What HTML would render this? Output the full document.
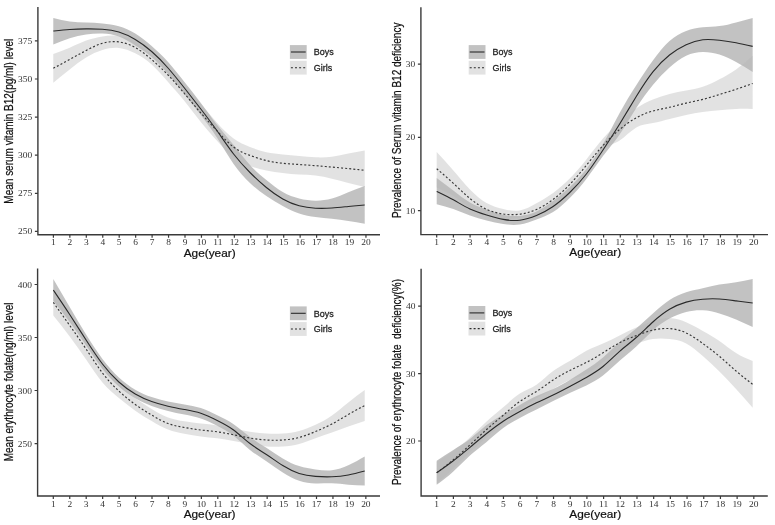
<!DOCTYPE html>
<html><head><meta charset="utf-8"><style>
html,body{margin:0;padding:0;background:#fff;}
svg{display:block;filter:blur(0.3px);}
.tk{font-family:"Liberation Serif",serif;font-size:9px;fill:#333;}
.ti{font-family:"Liberation Sans",sans-serif;font-size:10.6px;fill:#111;stroke:#111;stroke-width:0.2px;}
.yt{white-space:pre;font-family:"Liberation Sans",sans-serif;font-size:10px;fill:#111;stroke:#111;stroke-width:0.2px;}
.lg{font-family:"Liberation Sans",sans-serif;font-size:8.3px;fill:#222;stroke:#222;stroke-width:0.25px;}
</style></head><body>
<svg width="775" height="525" viewBox="0 0 775 525">
<path d="M53.30 18.00C58.76 19.32 64.23 20.63 69.69 21.40C75.15 22.17 80.62 22.38 86.08 22.60C91.54 22.82 97.01 23.05 102.47 23.50C107.93 23.95 113.40 24.63 118.86 26.20C124.32 27.77 129.79 30.23 135.25 33.60C140.71 36.97 146.18 41.27 151.64 46.00C157.10 50.73 162.57 55.91 168.03 62.00C173.49 68.09 178.96 75.09 184.42 82.00C189.88 88.91 195.35 95.72 200.81 103.00C206.27 110.28 211.74 118.01 217.20 125.00C222.66 131.99 228.13 138.23 233.59 145.00C239.05 151.77 244.52 159.06 249.98 165.00C255.44 170.94 260.91 175.53 266.37 180.00C271.83 184.47 277.30 188.83 282.76 192.00C288.22 195.17 293.69 197.13 299.15 198.50C304.61 199.87 310.08 200.63 315.54 200.70C321.00 200.77 326.47 200.15 331.93 198.60C337.39 197.05 342.86 194.56 348.32 192.30C353.78 190.04 359.25 188.02 364.71 186.00L364.71 223.70C359.25 222.77 353.78 221.84 348.32 221.00C342.86 220.16 337.39 219.41 331.93 218.80C326.47 218.19 321.00 217.72 315.54 217.00C310.08 216.28 304.61 215.32 299.15 213.50C293.69 211.68 288.22 208.99 282.76 206.00C277.30 203.01 271.83 199.73 266.37 196.00C260.91 192.27 255.44 188.11 249.98 183.00C244.52 177.89 239.05 171.85 233.59 164.00C228.13 156.15 222.66 146.50 217.20 138.00C211.74 129.50 206.27 122.16 200.81 115.00C195.35 107.84 189.88 100.87 184.42 94.00C178.96 87.13 173.49 80.36 168.03 74.00C162.57 67.64 157.10 61.70 151.64 57.00C146.18 52.30 140.71 48.83 135.25 45.40C129.79 41.97 124.32 38.57 118.86 36.50C113.40 34.43 107.93 33.68 102.47 33.50C97.01 33.32 91.54 33.69 86.08 34.50C80.62 35.31 75.15 36.54 69.69 38.30C64.23 40.06 58.76 42.33 53.30 44.60Z" fill="#666666" fill-opacity="0.4"/>
<path d="M53.30 54.00C58.76 52.02 64.23 50.05 69.69 47.70C75.15 45.35 80.62 42.63 86.08 40.60C91.54 38.57 97.01 37.21 102.47 36.40C107.93 35.59 113.40 35.31 118.86 36.00C124.32 36.69 129.79 38.36 135.25 41.70C140.71 45.04 146.18 50.07 151.64 54.50C157.10 58.93 162.57 62.77 168.03 68.00C173.49 73.23 178.96 79.86 184.42 86.00C189.88 92.14 195.35 97.81 200.81 104.00C206.27 110.19 211.74 116.91 217.20 123.00C222.66 129.09 228.13 134.57 233.59 138.50C239.05 142.43 244.52 144.83 249.98 147.00C255.44 149.17 260.91 151.12 266.37 152.30C271.83 153.48 277.30 153.91 282.76 154.40C288.22 154.89 293.69 155.45 299.15 156.00C304.61 156.55 310.08 157.08 315.54 157.30C321.00 157.52 326.47 157.42 331.93 156.70C337.39 155.98 342.86 154.65 348.32 153.50C353.78 152.35 359.25 151.37 364.71 150.40L364.71 187.00C359.25 185.65 353.78 184.30 348.32 182.90C342.86 181.50 337.39 180.04 331.93 178.70C326.47 177.36 321.00 176.14 315.54 175.50C310.08 174.86 304.61 174.80 299.15 174.50C293.69 174.20 288.22 173.65 282.76 173.00C277.30 172.35 271.83 171.61 266.37 170.50C260.91 169.39 255.44 167.91 249.98 166.00C244.52 164.09 239.05 161.74 233.59 157.50C228.13 153.26 222.66 147.12 217.20 141.00C211.74 134.88 206.27 128.78 200.81 122.00C195.35 115.22 189.88 107.75 184.42 101.00C178.96 94.25 173.49 88.20 168.03 82.00C162.57 75.80 157.10 69.44 151.64 64.50C146.18 59.56 140.71 56.05 135.25 53.30C129.79 50.55 124.32 48.56 118.86 48.00C113.40 47.44 107.93 48.33 102.47 50.00C97.01 51.67 91.54 54.13 86.08 57.50C80.62 60.87 75.15 65.13 69.69 69.50C64.23 73.87 58.76 78.33 53.30 82.80Z" fill="#b6b6b6" fill-opacity="0.4"/>
<path d="M53.30 31.00C58.76 30.44 64.23 29.87 69.69 29.50C75.15 29.13 80.62 28.95 86.08 28.90C91.54 28.85 97.01 28.92 102.47 29.30C107.93 29.68 113.40 30.36 118.86 32.00C124.32 33.64 129.79 36.22 135.25 39.50C140.71 42.78 146.18 46.75 151.64 51.50C157.10 56.25 162.57 61.80 168.03 68.00C173.49 74.20 178.96 81.07 184.42 88.00C189.88 94.93 195.35 101.91 200.81 109.00C206.27 116.09 211.74 123.29 217.20 131.00C222.66 138.71 228.13 146.92 233.59 154.00C239.05 161.08 244.52 167.01 249.98 172.50C255.44 177.99 260.91 183.02 266.37 187.50C271.83 191.98 277.30 195.91 282.76 199.00C288.22 202.09 293.69 204.34 299.15 205.80C304.61 207.26 310.08 207.93 315.54 208.20C321.00 208.47 326.47 208.36 331.93 208.00C337.39 207.64 342.86 207.04 348.32 206.50C353.78 205.96 359.25 205.48 364.71 205.00" fill="none" stroke="#2a2a2a" stroke-width="1.1"/>
<path d="M53.30 68.30C58.76 65.40 64.23 62.50 69.69 59.50C75.15 56.50 80.62 53.40 86.08 50.50C91.54 47.60 97.01 44.90 102.47 43.30C107.93 41.70 113.40 41.22 118.86 41.90C124.32 42.58 129.79 44.44 135.25 47.50C140.71 50.56 146.18 54.81 151.64 59.50C157.10 64.19 162.57 69.30 168.03 75.00C173.49 80.70 178.96 86.99 184.42 93.50C189.88 100.01 195.35 106.73 200.81 113.00C206.27 119.27 211.74 125.10 217.20 131.00C222.66 136.90 228.13 142.89 233.59 147.00C239.05 151.11 244.52 153.36 249.98 155.40C255.44 157.44 260.91 159.27 266.37 160.60C271.83 161.93 277.30 162.74 282.76 163.30C288.22 163.86 293.69 164.15 299.15 164.50C304.61 164.85 310.08 165.26 315.54 165.70C321.00 166.14 326.47 166.62 331.93 167.10C337.39 167.58 342.86 168.07 348.32 168.60C353.78 169.13 359.25 169.72 364.71 170.30" fill="none" stroke="#383838" stroke-width="1.15" stroke-dasharray="2 2.1"/>
<path d="M37.90 7.00 V234.80 H380.00" fill="none" stroke="#3a3a3a" stroke-width="1.4"/>
<path d="M53.40 234.80 v3 M69.85 234.80 v3 M86.30 234.80 v3 M102.75 234.80 v3 M119.20 234.80 v3 M135.65 234.80 v3 M152.10 234.80 v3 M168.55 234.80 v3 M185.00 234.80 v3 M201.45 234.80 v3 M217.90 234.80 v3 M234.35 234.80 v3 M250.80 234.80 v3 M267.25 234.80 v3 M283.70 234.80 v3 M300.15 234.80 v3 M316.60 234.80 v3 M333.05 234.80 v3 M349.50 234.80 v3 M365.95 234.80 v3 M37.90 231.40 h-3 M37.90 193.30 h-3 M37.90 155.20 h-3 M37.90 117.10 h-3 M37.90 79.00 h-3 M37.90 40.90 h-3" stroke="#3a3a3a" stroke-width="1.2"/>
<text class="tk" text-anchor="middle" transform="translate(53.40 245.30) scale(1.05 1)">1</text>
<text class="tk" text-anchor="middle" transform="translate(69.85 245.30) scale(1.05 1)">2</text>
<text class="tk" text-anchor="middle" transform="translate(86.30 245.30) scale(1.05 1)">3</text>
<text class="tk" text-anchor="middle" transform="translate(102.75 245.30) scale(1.05 1)">4</text>
<text class="tk" text-anchor="middle" transform="translate(119.20 245.30) scale(1.05 1)">5</text>
<text class="tk" text-anchor="middle" transform="translate(135.65 245.30) scale(1.05 1)">6</text>
<text class="tk" text-anchor="middle" transform="translate(152.10 245.30) scale(1.05 1)">7</text>
<text class="tk" text-anchor="middle" transform="translate(168.55 245.30) scale(1.05 1)">8</text>
<text class="tk" text-anchor="middle" transform="translate(185.00 245.30) scale(1.05 1)">9</text>
<text class="tk" text-anchor="middle" transform="translate(201.45 245.30) scale(1.05 1)">10</text>
<text class="tk" text-anchor="middle" transform="translate(217.90 245.30) scale(1.05 1)">11</text>
<text class="tk" text-anchor="middle" transform="translate(234.35 245.30) scale(1.05 1)">12</text>
<text class="tk" text-anchor="middle" transform="translate(250.80 245.30) scale(1.05 1)">13</text>
<text class="tk" text-anchor="middle" transform="translate(267.25 245.30) scale(1.05 1)">14</text>
<text class="tk" text-anchor="middle" transform="translate(283.70 245.30) scale(1.05 1)">15</text>
<text class="tk" text-anchor="middle" transform="translate(300.15 245.30) scale(1.05 1)">16</text>
<text class="tk" text-anchor="middle" transform="translate(316.60 245.30) scale(1.05 1)">17</text>
<text class="tk" text-anchor="middle" transform="translate(333.05 245.30) scale(1.05 1)">18</text>
<text class="tk" text-anchor="middle" transform="translate(349.50 245.30) scale(1.05 1)">19</text>
<text class="tk" text-anchor="middle" transform="translate(365.95 245.30) scale(1.05 1)">20</text>
<text class="tk" text-anchor="end" transform="translate(32.20 234.40) scale(1.05 1)">250</text>
<text class="tk" text-anchor="end" transform="translate(32.20 196.30) scale(1.05 1)">275</text>
<text class="tk" text-anchor="end" transform="translate(32.20 158.20) scale(1.05 1)">300</text>
<text class="tk" text-anchor="end" transform="translate(32.20 120.10) scale(1.05 1)">325</text>
<text class="tk" text-anchor="end" transform="translate(32.20 82.00) scale(1.05 1)">350</text>
<text class="tk" text-anchor="end" transform="translate(32.20 43.90) scale(1.05 1)">375</text>
<text class="ti" text-anchor="middle" transform="translate(209.67 256.60) scale(1.117 1)">Age(year)</text>
<text class="yt" text-anchor="middle" transform="translate(12.90 121.20) rotate(-90) scale(1 1.2)" >Mean serum vitamin B12(pg/ml) level</text>
<rect x="289.90" y="45.10" width="16.8" height="13.8" fill="#666666" fill-opacity="0.4"/>
<rect x="289.90" y="60.80" width="16.8" height="13.8" fill="#b6b6b6" fill-opacity="0.4"/>
<path d="M290.90 52.00 h14.80" stroke="#2a2a2a" stroke-width="1.1"/>
<path d="M290.90 67.70 h14.80" stroke="#2a2a2a" stroke-width="1.15" stroke-dasharray="2 2.1"/>
<text class="lg" transform="translate(313.80 55.20) scale(1.08 1)">Boys</text>
<text class="lg" transform="translate(313.80 70.90) scale(1.08 1)">Girls</text>
<path d="M436.70 178.00C442.24 182.15 447.79 186.30 453.33 190.60C458.87 194.90 464.42 199.34 469.96 202.50C475.50 205.66 481.05 207.52 486.59 209.50C492.13 211.48 497.68 213.57 503.22 214.80C508.76 216.03 514.31 216.39 519.85 215.90C525.39 215.41 530.94 214.05 536.48 211.50C542.02 208.95 547.57 205.19 553.11 201.00C558.65 196.81 564.20 192.20 569.74 187.00C575.28 181.80 580.83 176.02 586.37 169.00C591.91 161.98 597.46 153.72 603.00 144.00C608.54 134.28 614.09 123.10 619.63 113.00C625.17 102.90 630.72 93.89 636.26 85.20C641.80 76.51 647.35 68.14 652.89 60.50C658.43 52.86 663.98 45.95 669.52 41.00C675.06 36.05 680.61 33.05 686.15 31.00C691.69 28.95 697.24 27.83 702.78 27.30C708.32 26.77 713.87 26.82 719.41 26.10C724.95 25.38 730.50 23.89 736.04 22.40C741.58 20.91 747.13 19.40 752.67 17.90L752.67 71.90C747.13 68.47 741.58 65.03 736.04 62.00C730.50 58.97 724.95 56.34 719.41 54.60C713.87 52.86 708.32 52.01 702.78 52.10C697.24 52.19 691.69 53.22 686.15 55.80C680.61 58.38 675.06 62.52 669.52 67.50C663.98 72.48 658.43 78.29 652.89 85.00C647.35 91.71 641.80 99.30 636.26 108.00C630.72 116.70 625.17 126.50 619.63 134.50C614.09 142.50 608.54 148.70 603.00 156.00C597.46 163.30 591.91 171.72 586.37 179.00C580.83 186.28 575.28 192.44 569.74 198.00C564.20 203.56 558.65 208.53 553.11 212.00C547.57 215.47 542.02 217.45 536.48 219.50C530.94 221.55 525.39 223.67 519.85 224.50C514.31 225.33 508.76 224.86 503.22 224.00C497.68 223.14 492.13 221.90 486.59 220.50C481.05 219.10 475.50 217.54 469.96 215.50C464.42 213.46 458.87 210.95 453.33 209.00C447.79 207.05 442.24 205.68 436.70 204.30Z" fill="#666666" fill-opacity="0.4"/>
<path d="M436.70 152.00C442.24 158.03 447.79 164.07 453.33 170.50C458.87 176.93 464.42 183.76 469.96 189.50C475.50 195.24 481.05 199.90 486.59 203.00C492.13 206.10 497.68 207.66 503.22 209.00C508.76 210.34 514.31 211.48 519.85 210.50C525.39 209.52 530.94 206.43 536.48 203.30C542.02 200.17 547.57 196.98 553.11 193.00C558.65 189.02 564.20 184.23 569.74 178.60C575.28 172.97 580.83 166.50 586.37 159.50C591.91 152.50 597.46 144.97 603.00 138.60C608.54 132.23 614.09 127.03 619.63 122.00C625.17 116.97 630.72 112.10 636.26 108.30C641.80 104.50 647.35 101.77 652.89 99.50C658.43 97.23 663.98 95.44 669.52 94.00C675.06 92.56 680.61 91.48 686.15 90.50C691.69 89.52 697.24 88.63 702.78 86.80C708.32 84.97 713.87 82.21 719.41 79.30C724.95 76.39 730.50 73.34 736.04 69.40C741.58 65.46 747.13 60.63 752.67 55.80L752.67 109.00C747.13 108.89 741.58 108.77 736.04 109.00C730.50 109.23 724.95 109.79 719.41 110.30C713.87 110.81 708.32 111.25 702.78 112.00C697.24 112.75 691.69 113.80 686.15 115.00C680.61 116.20 675.06 117.54 669.52 119.00C663.98 120.46 658.43 122.05 652.89 123.00C647.35 123.95 641.80 124.26 636.26 127.50C630.72 130.74 625.17 136.91 619.63 140.50C614.09 144.09 608.54 145.10 603.00 150.00C597.46 154.90 591.91 163.69 586.37 171.50C580.83 179.31 575.28 186.15 569.74 191.80C564.20 197.45 558.65 201.91 553.11 206.00C547.57 210.09 542.02 213.83 536.48 215.70C530.94 217.57 525.39 217.59 519.85 218.00C514.31 218.41 508.76 219.22 503.22 219.00C497.68 218.78 492.13 217.53 486.59 215.60C481.05 213.67 475.50 211.04 469.96 207.50C464.42 203.96 458.87 199.49 453.33 196.00C447.79 192.51 442.24 190.01 436.70 187.50Z" fill="#b6b6b6" fill-opacity="0.4"/>
<path d="M436.70 191.40C442.24 194.06 447.79 196.72 453.33 199.80C458.87 202.88 464.42 206.39 469.96 209.00C475.50 211.61 481.05 213.31 486.59 215.00C492.13 216.69 497.68 218.36 503.22 219.40C508.76 220.44 514.31 220.86 519.85 220.20C525.39 219.54 530.94 217.80 536.48 215.50C542.02 213.20 547.57 210.33 553.11 206.50C558.65 202.67 564.20 197.88 569.74 192.50C575.28 187.12 580.83 181.17 586.37 174.00C591.91 166.83 597.46 158.46 603.00 150.00C608.54 141.54 614.09 133.01 619.63 124.00C625.17 114.99 630.72 105.52 636.26 96.50C641.80 87.48 647.35 78.92 652.89 71.90C658.43 64.88 663.98 59.40 669.52 55.00C675.06 50.60 680.61 47.26 686.15 44.70C691.69 42.14 697.24 40.35 702.78 39.70C708.32 39.05 713.87 39.55 719.41 40.20C724.95 40.85 730.50 41.64 736.04 42.70C741.58 43.76 747.13 45.08 752.67 46.40" fill="none" stroke="#2a2a2a" stroke-width="1.1"/>
<path d="M436.70 168.70C442.24 173.44 447.79 178.18 453.33 183.30C458.87 188.42 464.42 193.91 469.96 198.50C475.50 203.09 481.05 206.76 486.59 209.30C492.13 211.84 497.68 213.23 503.22 214.00C508.76 214.77 514.31 214.90 519.85 214.20C525.39 213.50 530.94 211.95 536.48 209.50C542.02 207.05 547.57 203.68 553.11 199.50C558.65 195.32 564.20 190.31 569.74 184.50C575.28 178.69 580.83 172.07 586.37 165.30C591.91 158.53 597.46 151.60 603.00 145.50C608.54 139.40 614.09 134.13 619.63 129.50C625.17 124.87 630.72 120.88 636.26 117.80C641.80 114.72 647.35 112.54 652.89 111.00C658.43 109.46 663.98 108.56 669.52 107.30C675.06 106.04 680.61 104.41 686.15 103.10C691.69 101.79 697.24 100.79 702.78 99.40C708.32 98.01 713.87 96.22 719.41 94.50C724.95 92.78 730.50 91.12 736.04 89.30C741.58 87.48 747.13 85.49 752.67 83.50" fill="none" stroke="#383838" stroke-width="1.15" stroke-dasharray="2 2.1"/>
<path d="M420.90 7.30 V234.60 H768.00" fill="none" stroke="#3a3a3a" stroke-width="1.4"/>
<path d="M436.70 234.60 v3 M453.39 234.60 v3 M470.08 234.60 v3 M486.77 234.60 v3 M503.46 234.60 v3 M520.15 234.60 v3 M536.84 234.60 v3 M553.53 234.60 v3 M570.22 234.60 v3 M586.91 234.60 v3 M603.60 234.60 v3 M620.29 234.60 v3 M636.98 234.60 v3 M653.67 234.60 v3 M670.36 234.60 v3 M687.05 234.60 v3 M703.74 234.60 v3 M720.43 234.60 v3 M737.12 234.60 v3 M753.81 234.60 v3 M420.90 210.70 h-3 M420.90 137.40 h-3 M420.90 64.10 h-3" stroke="#3a3a3a" stroke-width="1.2"/>
<text class="tk" text-anchor="middle" transform="translate(436.70 245.10) scale(1.05 1)">1</text>
<text class="tk" text-anchor="middle" transform="translate(453.39 245.10) scale(1.05 1)">2</text>
<text class="tk" text-anchor="middle" transform="translate(470.08 245.10) scale(1.05 1)">3</text>
<text class="tk" text-anchor="middle" transform="translate(486.77 245.10) scale(1.05 1)">4</text>
<text class="tk" text-anchor="middle" transform="translate(503.46 245.10) scale(1.05 1)">5</text>
<text class="tk" text-anchor="middle" transform="translate(520.15 245.10) scale(1.05 1)">6</text>
<text class="tk" text-anchor="middle" transform="translate(536.84 245.10) scale(1.05 1)">7</text>
<text class="tk" text-anchor="middle" transform="translate(553.53 245.10) scale(1.05 1)">8</text>
<text class="tk" text-anchor="middle" transform="translate(570.22 245.10) scale(1.05 1)">9</text>
<text class="tk" text-anchor="middle" transform="translate(586.91 245.10) scale(1.05 1)">10</text>
<text class="tk" text-anchor="middle" transform="translate(603.60 245.10) scale(1.05 1)">11</text>
<text class="tk" text-anchor="middle" transform="translate(620.29 245.10) scale(1.05 1)">12</text>
<text class="tk" text-anchor="middle" transform="translate(636.98 245.10) scale(1.05 1)">13</text>
<text class="tk" text-anchor="middle" transform="translate(653.67 245.10) scale(1.05 1)">14</text>
<text class="tk" text-anchor="middle" transform="translate(670.36 245.10) scale(1.05 1)">15</text>
<text class="tk" text-anchor="middle" transform="translate(687.05 245.10) scale(1.05 1)">16</text>
<text class="tk" text-anchor="middle" transform="translate(703.74 245.10) scale(1.05 1)">17</text>
<text class="tk" text-anchor="middle" transform="translate(720.43 245.10) scale(1.05 1)">18</text>
<text class="tk" text-anchor="middle" transform="translate(737.12 245.10) scale(1.05 1)">19</text>
<text class="tk" text-anchor="middle" transform="translate(753.81 245.10) scale(1.05 1)">20</text>
<text class="tk" text-anchor="end" transform="translate(415.20 213.70) scale(1.05 1)">10</text>
<text class="tk" text-anchor="end" transform="translate(415.20 140.40) scale(1.05 1)">20</text>
<text class="tk" text-anchor="end" transform="translate(415.20 67.10) scale(1.05 1)">30</text>
<text class="ti" text-anchor="middle" transform="translate(595.25 256.40) scale(1.117 1)">Age(year)</text>
<text class="yt" text-anchor="middle" transform="translate(400.70 120.30) rotate(-90) scale(1 1.2)" >Prevalence of Serum vitamin B12 deficiency</text>
<rect x="468.70" y="45.10" width="16.8" height="13.8" fill="#666666" fill-opacity="0.4"/>
<rect x="468.70" y="60.80" width="16.8" height="13.8" fill="#b6b6b6" fill-opacity="0.4"/>
<path d="M469.70 52.00 h14.80" stroke="#2a2a2a" stroke-width="1.1"/>
<path d="M469.70 67.70 h14.80" stroke="#2a2a2a" stroke-width="1.15" stroke-dasharray="2 2.1"/>
<text class="lg" transform="translate(492.60 55.20) scale(1.08 1)">Boys</text>
<text class="lg" transform="translate(492.60 70.90) scale(1.08 1)">Girls</text>
<path d="M53.30 279.00C58.76 288.34 64.23 297.67 69.69 307.00C75.15 316.33 80.62 325.65 86.08 334.50C91.54 343.35 97.01 351.73 102.47 359.00C107.93 366.27 113.40 372.43 118.86 377.50C124.32 382.57 129.79 386.53 135.25 389.70C140.71 392.87 146.18 395.23 151.64 397.10C157.10 398.97 162.57 400.34 168.03 401.50C173.49 402.66 178.96 403.59 184.42 404.50C189.88 405.41 195.35 406.29 200.81 408.10C206.27 409.91 211.74 412.67 217.20 415.30C222.66 417.93 228.13 420.45 233.59 424.20C239.05 427.95 244.52 432.92 249.98 437.00C255.44 441.08 260.91 444.26 266.37 447.80C271.83 451.34 277.30 455.24 282.76 458.50C288.22 461.76 293.69 464.38 299.15 466.10C304.61 467.82 310.08 468.63 315.54 469.40C321.00 470.17 326.47 470.89 331.93 470.30C337.39 469.71 342.86 467.82 348.32 465.30C353.78 462.78 359.25 459.64 364.71 456.50L364.71 485.50C359.25 485.33 353.78 485.17 348.32 484.70C342.86 484.23 337.39 483.47 331.93 483.30C326.47 483.13 321.00 483.56 315.54 483.40C310.08 483.24 304.61 482.51 299.15 480.70C293.69 478.89 288.22 476.01 282.76 472.50C277.30 468.99 271.83 464.86 266.37 461.20C260.91 457.54 255.44 454.36 249.98 450.00C244.52 445.64 239.05 440.08 233.59 435.80C228.13 431.52 222.66 428.50 217.20 425.70C211.74 422.90 206.27 420.33 200.81 418.50C195.35 416.67 189.88 415.60 184.42 414.50C178.96 413.40 173.49 412.27 168.03 410.90C162.57 409.53 157.10 407.92 151.64 405.90C146.18 403.88 140.71 401.45 135.25 398.30C129.79 395.15 124.32 391.28 118.86 386.50C113.40 381.72 107.93 376.02 102.47 369.00C97.01 361.98 91.54 353.65 86.08 345.50C80.62 337.35 75.15 329.39 69.69 322.00C64.23 314.61 58.76 307.81 53.30 301.00Z" fill="#666666" fill-opacity="0.4"/>
<path d="M53.30 289.40C58.76 297.85 64.23 306.31 69.69 314.40C75.15 322.49 80.62 330.22 86.08 338.50C91.54 346.78 97.01 355.63 102.47 363.50C107.93 371.37 113.40 378.27 118.86 384.00C124.32 389.73 129.79 394.31 135.25 398.30C140.71 402.29 146.18 405.71 151.64 409.00C157.10 412.29 162.57 415.46 168.03 417.50C173.49 419.54 178.96 420.44 184.42 421.30C189.88 422.16 195.35 422.98 200.81 423.60C206.27 424.22 211.74 424.63 217.20 425.40C222.66 426.17 228.13 427.31 233.59 428.50C239.05 429.69 244.52 430.92 249.98 431.80C255.44 432.68 260.91 433.21 266.37 433.50C271.83 433.79 277.30 433.83 282.76 433.50C288.22 433.17 293.69 432.45 299.15 431.00C304.61 429.55 310.08 427.35 315.54 424.80C321.00 422.25 326.47 419.34 331.93 415.50C337.39 411.66 342.86 406.89 348.32 402.50C353.78 398.11 359.25 394.11 364.71 390.10L364.71 420.90C359.25 422.72 353.78 424.54 348.32 426.50C342.86 428.46 337.39 430.57 331.93 432.50C326.47 434.43 321.00 436.18 315.54 438.20C310.08 440.22 304.61 442.52 299.15 444.00C293.69 445.48 288.22 446.14 282.76 446.50C277.30 446.86 271.83 446.92 266.37 446.50C260.91 446.08 255.44 445.18 249.98 444.20C244.52 443.22 239.05 442.17 233.59 441.10C228.13 440.03 222.66 438.94 217.20 438.20C211.74 437.46 206.27 437.08 200.81 436.40C195.35 435.72 189.88 434.72 184.42 433.70C178.96 432.68 173.49 431.62 168.03 429.50C162.57 427.38 157.10 424.21 151.64 421.00C146.18 417.79 140.71 414.53 135.25 410.70C129.79 406.87 124.32 402.47 118.86 398.00C113.40 393.53 107.93 388.99 102.47 382.50C97.01 376.01 91.54 367.58 86.08 359.50C80.62 351.42 75.15 343.69 69.69 336.40C64.23 329.11 58.76 322.25 53.30 315.40Z" fill="#b6b6b6" fill-opacity="0.4"/>
<path d="M53.30 290.00C58.76 298.07 64.23 306.14 69.69 314.50C75.15 322.86 80.62 331.50 86.08 340.00C91.54 348.50 97.01 356.86 102.47 364.00C107.93 371.14 113.40 377.08 118.86 382.00C124.32 386.92 129.79 390.84 135.25 394.00C140.71 397.16 146.18 399.56 151.64 401.50C157.10 403.44 162.57 404.94 168.03 406.20C173.49 407.46 178.96 408.50 184.42 409.50C189.88 410.50 195.35 411.48 200.81 413.30C206.27 415.12 211.74 417.78 217.20 420.50C222.66 423.22 228.13 425.98 233.59 430.00C239.05 434.02 244.52 439.28 249.98 443.50C255.44 447.72 260.91 450.90 266.37 454.50C271.83 458.10 277.30 462.12 282.76 465.50C288.22 468.88 293.69 471.64 299.15 473.40C304.61 475.16 310.08 475.94 315.54 476.40C321.00 476.86 326.47 477.01 331.93 476.80C337.39 476.59 342.86 476.03 348.32 475.00C353.78 473.97 359.25 472.49 364.71 471.00" fill="none" stroke="#2a2a2a" stroke-width="1.1"/>
<path d="M53.30 302.40C58.76 310.05 64.23 317.71 69.69 325.40C75.15 333.09 80.62 340.82 86.08 349.00C91.54 357.18 97.01 365.82 102.47 373.00C107.93 380.18 113.40 385.90 118.86 391.00C124.32 396.10 129.79 400.59 135.25 404.50C140.71 408.41 146.18 411.75 151.64 415.00C157.10 418.25 162.57 421.42 168.03 423.50C173.49 425.58 178.96 426.56 184.42 427.50C189.88 428.44 195.35 429.35 200.81 430.00C206.27 430.65 211.74 431.04 217.20 431.80C222.66 432.56 228.13 433.67 233.59 434.80C239.05 435.93 244.52 437.07 249.98 438.00C255.44 438.93 260.91 439.65 266.37 440.00C271.83 440.35 277.30 440.35 282.76 440.00C288.22 439.65 293.69 438.97 299.15 437.50C304.61 436.03 310.08 433.79 315.54 431.50C321.00 429.21 326.47 426.88 331.93 424.00C337.39 421.12 342.86 417.68 348.32 414.50C353.78 411.32 359.25 408.41 364.71 405.50" fill="none" stroke="#383838" stroke-width="1.15" stroke-dasharray="2 2.1"/>
<path d="M37.60 268.50 V496.00 H380.00" fill="none" stroke="#3a3a3a" stroke-width="1.4"/>
<path d="M53.30 496.00 v3 M69.75 496.00 v3 M86.20 496.00 v3 M102.65 496.00 v3 M119.10 496.00 v3 M135.55 496.00 v3 M152.00 496.00 v3 M168.45 496.00 v3 M184.90 496.00 v3 M201.35 496.00 v3 M217.80 496.00 v3 M234.25 496.00 v3 M250.70 496.00 v3 M267.15 496.00 v3 M283.60 496.00 v3 M300.05 496.00 v3 M316.50 496.00 v3 M332.95 496.00 v3 M349.40 496.00 v3 M365.85 496.00 v3 M37.60 443.60 h-3 M37.60 390.50 h-3 M37.60 337.50 h-3 M37.60 284.50 h-3" stroke="#3a3a3a" stroke-width="1.2"/>
<text class="tk" text-anchor="middle" transform="translate(53.30 506.50) scale(1.05 1)">1</text>
<text class="tk" text-anchor="middle" transform="translate(69.75 506.50) scale(1.05 1)">2</text>
<text class="tk" text-anchor="middle" transform="translate(86.20 506.50) scale(1.05 1)">3</text>
<text class="tk" text-anchor="middle" transform="translate(102.65 506.50) scale(1.05 1)">4</text>
<text class="tk" text-anchor="middle" transform="translate(119.10 506.50) scale(1.05 1)">5</text>
<text class="tk" text-anchor="middle" transform="translate(135.55 506.50) scale(1.05 1)">6</text>
<text class="tk" text-anchor="middle" transform="translate(152.00 506.50) scale(1.05 1)">7</text>
<text class="tk" text-anchor="middle" transform="translate(168.45 506.50) scale(1.05 1)">8</text>
<text class="tk" text-anchor="middle" transform="translate(184.90 506.50) scale(1.05 1)">9</text>
<text class="tk" text-anchor="middle" transform="translate(201.35 506.50) scale(1.05 1)">10</text>
<text class="tk" text-anchor="middle" transform="translate(217.80 506.50) scale(1.05 1)">11</text>
<text class="tk" text-anchor="middle" transform="translate(234.25 506.50) scale(1.05 1)">12</text>
<text class="tk" text-anchor="middle" transform="translate(250.70 506.50) scale(1.05 1)">13</text>
<text class="tk" text-anchor="middle" transform="translate(267.15 506.50) scale(1.05 1)">14</text>
<text class="tk" text-anchor="middle" transform="translate(283.60 506.50) scale(1.05 1)">15</text>
<text class="tk" text-anchor="middle" transform="translate(300.05 506.50) scale(1.05 1)">16</text>
<text class="tk" text-anchor="middle" transform="translate(316.50 506.50) scale(1.05 1)">17</text>
<text class="tk" text-anchor="middle" transform="translate(332.95 506.50) scale(1.05 1)">18</text>
<text class="tk" text-anchor="middle" transform="translate(349.40 506.50) scale(1.05 1)">19</text>
<text class="tk" text-anchor="middle" transform="translate(365.85 506.50) scale(1.05 1)">20</text>
<text class="tk" text-anchor="end" transform="translate(31.90 446.60) scale(1.05 1)">250</text>
<text class="tk" text-anchor="end" transform="translate(31.90 393.50) scale(1.05 1)">300</text>
<text class="tk" text-anchor="end" transform="translate(31.90 340.50) scale(1.05 1)">350</text>
<text class="tk" text-anchor="end" transform="translate(31.90 287.50) scale(1.05 1)">400</text>
<text class="ti" text-anchor="middle" transform="translate(209.58 517.80) scale(1.117 1)">Age(year)</text>
<text class="yt" text-anchor="middle" transform="translate(12.90 381.90) rotate(-90) scale(1 1.2)" >Mean erythrocyte folate(ng/ml) level</text>
<rect x="289.90" y="306.40" width="16.8" height="13.8" fill="#666666" fill-opacity="0.4"/>
<rect x="289.90" y="322.10" width="16.8" height="13.8" fill="#b6b6b6" fill-opacity="0.4"/>
<path d="M290.90 313.30 h14.80" stroke="#2a2a2a" stroke-width="1.1"/>
<path d="M290.90 329.00 h14.80" stroke="#2a2a2a" stroke-width="1.15" stroke-dasharray="2 2.1"/>
<text class="lg" transform="translate(313.80 316.50) scale(1.08 1)">Boys</text>
<text class="lg" transform="translate(313.80 332.20) scale(1.08 1)">Girls</text>
<path d="M436.70 460.80C442.24 457.06 447.79 453.32 453.33 449.90C458.87 446.48 464.42 443.37 469.96 439.10C475.50 434.83 481.05 429.41 486.59 425.10C492.13 420.79 497.68 417.58 503.22 414.40C508.76 411.22 514.31 408.07 519.85 404.90C525.39 401.73 530.94 398.55 536.48 396.00C542.02 393.45 547.57 391.55 553.11 389.00C558.65 386.45 564.20 383.27 569.74 379.90C575.28 376.53 580.83 372.98 586.37 369.40C591.91 365.82 597.46 362.23 603.00 357.50C608.54 352.77 614.09 346.91 619.63 342.00C625.17 337.09 630.72 333.11 636.26 328.50C641.80 323.89 647.35 318.63 652.89 313.60C658.43 308.57 663.98 303.75 669.52 300.10C675.06 296.45 680.61 293.96 686.15 292.20C691.69 290.44 697.24 289.42 702.78 288.20C708.32 286.98 713.87 285.58 719.41 284.60C724.95 283.62 730.50 283.06 736.04 282.20C741.58 281.34 747.13 280.17 752.67 279.00L752.67 327.00C747.13 324.47 741.58 321.94 736.04 319.60C730.50 317.26 724.95 315.10 719.41 313.40C713.87 311.70 708.32 310.47 702.78 310.20C697.24 309.93 691.69 310.61 686.15 312.00C680.61 313.39 675.06 315.49 669.52 318.50C663.98 321.51 658.43 325.44 652.89 330.40C647.35 335.36 641.80 341.37 636.26 346.50C630.72 351.63 625.17 355.90 619.63 360.80C614.09 365.70 608.54 371.24 603.00 375.50C597.46 379.76 591.91 382.75 586.37 385.40C580.83 388.05 575.28 390.37 569.74 392.90C564.20 395.43 558.65 398.16 553.11 401.00C547.57 403.84 542.02 406.80 536.48 409.60C530.94 412.40 525.39 415.03 519.85 417.90C514.31 420.77 508.76 423.87 503.22 428.00C497.68 432.13 492.13 437.31 486.59 441.90C481.05 446.49 475.50 450.51 469.96 455.50C464.42 460.49 458.87 466.45 453.33 471.50C447.79 476.55 442.24 480.67 436.70 484.80Z" fill="#666666" fill-opacity="0.4"/>
<path d="M436.70 461.80C442.24 458.26 447.79 454.73 453.33 450.80C458.87 446.87 464.42 442.55 469.96 437.50C475.50 432.45 481.05 426.67 486.59 421.60C492.13 416.53 497.68 412.16 503.22 407.30C508.76 402.44 514.31 397.10 519.85 393.60C525.39 390.10 530.94 388.43 536.48 384.70C542.02 380.97 547.57 375.17 553.11 371.00C558.65 366.83 564.20 364.29 569.74 361.00C575.28 357.71 580.83 353.68 586.37 350.70C591.91 347.72 597.46 345.79 603.00 343.40C608.54 341.01 614.09 338.14 619.63 335.40C625.17 332.66 630.72 330.04 636.26 327.60C641.80 325.16 647.35 322.90 652.89 321.10C658.43 319.30 663.98 317.95 669.52 318.10C675.06 318.25 680.61 319.92 686.15 322.30C691.69 324.68 697.24 327.79 702.78 330.90C708.32 334.01 713.87 337.11 719.41 341.00C724.95 344.89 730.50 349.55 736.04 353.00C741.58 356.45 747.13 358.67 752.67 360.90L752.67 407.70C747.13 401.39 741.58 395.08 736.04 389.00C730.50 382.92 724.95 377.07 719.41 371.60C713.87 366.13 708.32 361.04 702.78 356.10C697.24 351.16 691.69 346.37 686.15 343.50C680.61 340.63 675.06 339.69 669.52 339.10C663.98 338.51 658.43 338.26 652.89 339.10C647.35 339.94 641.80 341.85 636.26 343.60C630.72 345.35 625.17 346.93 619.63 350.00C614.09 353.07 608.54 357.63 603.00 362.20C597.46 366.77 591.91 371.35 586.37 374.10C580.83 376.85 575.28 377.76 569.74 380.00C564.20 382.24 558.65 385.80 553.11 389.00C547.57 392.20 542.02 395.05 536.48 398.30C530.94 401.55 525.39 405.20 519.85 409.40C514.31 413.60 508.76 418.35 503.22 423.10C497.68 427.85 492.13 432.62 486.59 437.40C481.05 442.18 475.50 446.98 469.96 452.30C464.42 457.62 458.87 463.46 453.33 468.80C447.79 474.14 442.24 478.97 436.70 483.80Z" fill="#b6b6b6" fill-opacity="0.4"/>
<path d="M436.70 472.80C442.24 468.87 447.79 464.93 453.33 460.70C458.87 456.47 464.42 451.93 469.96 447.30C475.50 442.67 481.05 437.95 486.59 433.50C492.13 429.05 497.68 424.86 503.22 421.20C508.76 417.54 514.31 414.42 519.85 411.40C525.39 408.38 530.94 405.47 536.48 402.80C542.02 400.13 547.57 397.70 553.11 395.00C558.65 392.30 564.20 389.35 569.74 386.40C575.28 383.45 580.83 380.51 586.37 377.40C591.91 374.29 597.46 370.99 603.00 366.50C608.54 362.01 614.09 356.31 619.63 351.40C625.17 346.49 630.72 342.37 636.26 337.50C641.80 332.63 647.35 327.00 652.89 322.00C658.43 317.00 663.98 312.63 669.52 309.30C675.06 305.97 680.61 303.67 686.15 302.10C691.69 300.53 697.24 299.67 702.78 299.20C708.32 298.73 713.87 298.64 719.41 299.00C724.95 299.36 730.50 300.16 736.04 300.90C741.58 301.64 747.13 302.32 752.67 303.00" fill="none" stroke="#2a2a2a" stroke-width="1.1"/>
<path d="M436.70 472.80C442.24 468.62 447.79 464.43 453.33 459.80C458.87 455.17 464.42 450.08 469.96 444.90C475.50 439.72 481.05 434.43 486.59 429.50C492.13 424.57 497.68 420.01 503.22 415.20C508.76 410.39 514.31 405.35 519.85 401.50C525.39 397.65 530.94 394.99 536.48 391.50C542.02 388.01 547.57 383.69 553.11 380.00C558.65 376.31 564.20 373.26 569.74 370.50C575.28 367.74 580.83 365.26 586.37 362.40C591.91 359.54 597.46 356.28 603.00 352.80C608.54 349.32 614.09 345.61 619.63 342.70C625.17 339.79 630.72 337.69 636.26 335.60C641.80 333.51 647.35 331.42 652.89 330.10C658.43 328.78 663.98 328.23 669.52 328.60C675.06 328.97 680.61 330.27 686.15 332.90C691.69 335.53 697.24 339.48 702.78 343.50C708.32 347.52 713.87 351.62 719.41 356.30C724.95 360.98 730.50 366.24 736.04 371.00C741.58 375.76 747.13 380.03 752.67 384.30" fill="none" stroke="#383838" stroke-width="1.15" stroke-dasharray="2 2.1"/>
<path d="M421.10 268.80 V496.00 H767.80" fill="none" stroke="#3a3a3a" stroke-width="1.4"/>
<path d="M436.70 496.00 v3 M453.39 496.00 v3 M470.08 496.00 v3 M486.77 496.00 v3 M503.46 496.00 v3 M520.15 496.00 v3 M536.84 496.00 v3 M553.53 496.00 v3 M570.22 496.00 v3 M586.91 496.00 v3 M603.60 496.00 v3 M620.29 496.00 v3 M636.98 496.00 v3 M653.67 496.00 v3 M670.36 496.00 v3 M687.05 496.00 v3 M703.74 496.00 v3 M720.43 496.00 v3 M737.12 496.00 v3 M753.81 496.00 v3 M421.10 441.00 h-3 M421.10 373.60 h-3 M421.10 306.10 h-3" stroke="#3a3a3a" stroke-width="1.2"/>
<text class="tk" text-anchor="middle" transform="translate(436.70 506.50) scale(1.05 1)">1</text>
<text class="tk" text-anchor="middle" transform="translate(453.39 506.50) scale(1.05 1)">2</text>
<text class="tk" text-anchor="middle" transform="translate(470.08 506.50) scale(1.05 1)">3</text>
<text class="tk" text-anchor="middle" transform="translate(486.77 506.50) scale(1.05 1)">4</text>
<text class="tk" text-anchor="middle" transform="translate(503.46 506.50) scale(1.05 1)">5</text>
<text class="tk" text-anchor="middle" transform="translate(520.15 506.50) scale(1.05 1)">6</text>
<text class="tk" text-anchor="middle" transform="translate(536.84 506.50) scale(1.05 1)">7</text>
<text class="tk" text-anchor="middle" transform="translate(553.53 506.50) scale(1.05 1)">8</text>
<text class="tk" text-anchor="middle" transform="translate(570.22 506.50) scale(1.05 1)">9</text>
<text class="tk" text-anchor="middle" transform="translate(586.91 506.50) scale(1.05 1)">10</text>
<text class="tk" text-anchor="middle" transform="translate(603.60 506.50) scale(1.05 1)">11</text>
<text class="tk" text-anchor="middle" transform="translate(620.29 506.50) scale(1.05 1)">12</text>
<text class="tk" text-anchor="middle" transform="translate(636.98 506.50) scale(1.05 1)">13</text>
<text class="tk" text-anchor="middle" transform="translate(653.67 506.50) scale(1.05 1)">14</text>
<text class="tk" text-anchor="middle" transform="translate(670.36 506.50) scale(1.05 1)">15</text>
<text class="tk" text-anchor="middle" transform="translate(687.05 506.50) scale(1.05 1)">16</text>
<text class="tk" text-anchor="middle" transform="translate(703.74 506.50) scale(1.05 1)">17</text>
<text class="tk" text-anchor="middle" transform="translate(720.43 506.50) scale(1.05 1)">18</text>
<text class="tk" text-anchor="middle" transform="translate(737.12 506.50) scale(1.05 1)">19</text>
<text class="tk" text-anchor="middle" transform="translate(753.81 506.50) scale(1.05 1)">20</text>
<text class="tk" text-anchor="end" transform="translate(415.40 444.00) scale(1.05 1)">20</text>
<text class="tk" text-anchor="end" transform="translate(415.40 376.60) scale(1.05 1)">30</text>
<text class="tk" text-anchor="end" transform="translate(415.40 309.10) scale(1.05 1)">40</text>
<text class="ti" text-anchor="middle" transform="translate(595.25 517.80) scale(1.117 1)">Age(year)</text>
<text class="yt" text-anchor="middle" transform="translate(401.00 382.00) rotate(-90) scale(1 1.2)" >Prevalence of erythrocyte folate  deficiency(%)</text>
<rect x="468.50" y="306.00" width="16.8" height="13.8" fill="#666666" fill-opacity="0.4"/>
<rect x="468.50" y="321.70" width="16.8" height="13.8" fill="#b6b6b6" fill-opacity="0.4"/>
<path d="M469.50 312.90 h14.80" stroke="#2a2a2a" stroke-width="1.1"/>
<path d="M469.50 328.60 h14.80" stroke="#2a2a2a" stroke-width="1.15" stroke-dasharray="2 2.1"/>
<text class="lg" transform="translate(492.40 316.10) scale(1.08 1)">Boys</text>
<text class="lg" transform="translate(492.40 331.80) scale(1.08 1)">Girls</text>
</svg>
</body></html>
